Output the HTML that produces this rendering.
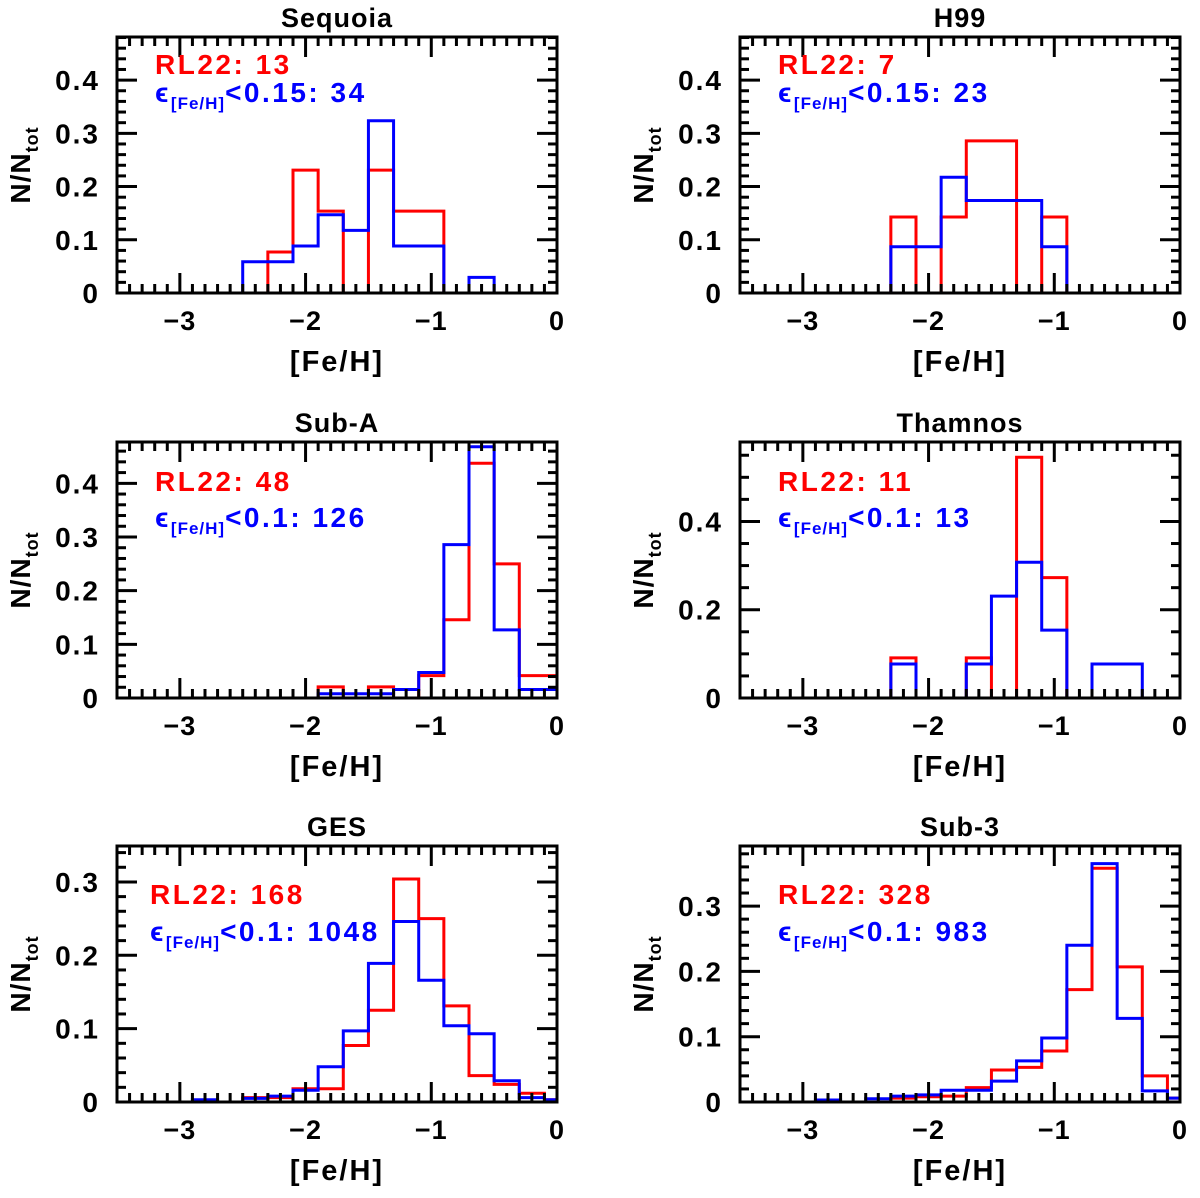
<!DOCTYPE html>
<html><head><meta charset="utf-8"><style>
body{margin:0;background:#fff}
svg text{font-family:"Liberation Sans",sans-serif;font-weight:bold}
</style></head><body>
<svg id="fig" width="1200" height="1193" viewBox="0 0 1200 1193" xmlns="http://www.w3.org/2000/svg"></svg>
<script>
// bin left edges: -2.9,-2.7,...,-0.1 (width 0.2)
const binStart = -2.9;
const binWidth = 0.2;
const titles = ["Sequoia","H99","Sub-A","Thamnos","GES","Sub-3"];
const redLabels = ["RL22: 13","RL22: 7","RL22: 48","RL22: 11","RL22: 168","RL22: 328"];
const blueCuts = ["<0.15: 34","<0.15: 23","<0.1: 126","<0.1: 13","<0.1: 1048","<0.1: 983"];
const seqRed = [0,0,0,1/13,3/13,2/13,0,3/13,2/13,2/13,0,0,0,0,0];
const seqBlue = [0,0,2/34,2/34,3/34,5/34,4/34,11/34,3/34,3/34,0,1/34,0,0,0];
const h99Red = [0,0,0,1/7,0,1/7,2/7,2/7,0,1/7,0,0,0,0,0];
const h99Blue = [0,0,0,2/23,2/23,5/23,4/23,4/23,4/23,2/23,0,0,0,0,0];
const subARed = [0,0,0,0,0,1/48,0,1/48,0,2/48,7/48,21/48,12/48,2/48,2/48];
const subABlue = [0,0,0,0,0,1/126,1/126,1/126,2/126,6/126,36/126,59/126,16/126,2/126,2/126];
const thamRed = [0,0,0,1/11,0,0,1/11,0,6/11,3/11,0,0,0,0,0];
const thamBlue = [0,0,0,1/13,0,0,1/13,3/13,4/13,2/13,0,1/13,1/13,0,0];
const gesRed = [0,0,0.006,0.006,0.018,0.018,0.077,0.125,0.304,0.25,0.131,0.036,0.024,0.012,0.003];
const gesBlue = [0.003,0,0.005,0.008,0.016,0.048,0.097,0.189,0.246,0.166,0.104,0.093,0.029,0.006,0.003];
const sub3Red = [0,0,0,0.006,0.008,0.009,0.022,0.049,0.053,0.078,0.172,0.358,0.207,0.04,0.006];
const sub3Blue = [0.003,0,0.005,0.009,0.011,0.018,0.018,0.032,0.063,0.098,0.24,0.365,0.128,0.017,0.006];
const redSeries = [seqRed,h99Red,subARed,thamRed,gesRed,sub3Red];
const blueSeries = [seqBlue,h99Blue,subABlue,thamBlue,gesBlue,sub3Blue];
const xTickLabels = ["−3","−2","−1","0"];
const xTickValues = [-3,-2,-1,0];
const yTickLabels = [["0","0.1","0.2","0.3","0.4"],["0","0.1","0.2","0.3","0.4"],["0","0.1","0.2","0.3","0.4"],["0","0.2","0.4"],["0","0.1","0.2","0.3"],["0","0.1","0.2","0.3"]];
const yTickValues = [[0,0.1,0.2,0.3,0.4],[0,0.1,0.2,0.3,0.4],[0,0.1,0.2,0.3,0.4],[0,0.2,0.4],[0,0.1,0.2,0.3],[0,0.1,0.2,0.3]];
const yMax = [0.481,0.481,0.477,0.58,0.349,0.392];
const yMinorStep = [0.02,0.02,0.02,0.05,0.02,0.02];

const NS="http://www.w3.org/2000/svg";
const svg=document.getElementById('fig');
function mk(tag,attrs,parent){const e=document.createElementNS(NS,tag);for(const k in attrs)e.setAttribute(k,attrs[k]);(parent||svg).appendChild(e);return e;}

const lefts=[117,740];
const tops=[37,442,846];
const W=440,H=256;

for(let p=0;p<6;p++){
  const L=lefts[p%2], T=tops[Math.floor(p/2)], B=T+H, R=L+W;
  const g=mk('g',{});
  
  
  const xs=v=>L+(v+3.5)/3.5*W;
  const ys=v=>B-v/yMax[p]*H;
  const clip=mk('clipPath',{id:'c'+p},g);
  mk('rect',{x:L,y:T,width:W,height:H},clip);
  [[redSeries[p],'#ff0000','red'],[blueSeries[p],'#0000ff','blue']].forEach(([arr,col,nm])=>{
    let d='M'+xs(binStart)+','+ys(0);
    arr.forEach((v,i)=>{const x0=xs(binStart+i*binWidth),x1=xs(binStart+(i+1)*binWidth);d+=' L'+x0+','+ys(v)+' L'+x1+','+ys(v);});
    d+=' L'+xs(binStart+arr.length*binWidth)+','+ys(0);
    const path=mk('path',{d:d,fill:'none',stroke:col,'stroke-width':3,'clip-path':'url(#c'+p+')'},g);
    
    
  });
  const fr=mk('rect',{x:L,y:T,width:W,height:H,fill:'none',stroke:'#000','stroke-width':3},g);
  
  
  for(let k=-35;k<=0;k++){
    const v=k/10, x=xs(v), major=(k%10===0), len=major?20:9;
    mk('line',{x1:x,y1:B,x2:x,y2:B-len,stroke:'#000','stroke-width':3},g);
    mk('line',{x1:x,y1:T,x2:x,y2:T+len,stroke:'#000','stroke-width':3},g);
  }
  xTickValues.forEach((v,i)=>{
    const t=mk('text',{x:xs(v),y:B+37,'font-size':27,'text-anchor':'middle','letter-spacing':1},g);t.textContent=xTickLabels[i];
    
    
  });
  const nMinor=Math.floor(yMax[p]/yMinorStep[p]+1e-6);
  for(let k=0;k<=nMinor;k++){
    const v=k*yMinorStep[p], y=ys(v);
    const major=yTickValues[p].some(t=>Math.abs(t-v)<1e-6);
    const len=major?20:9;
    mk('line',{x1:L,y1:y,x2:L+len,y2:y,stroke:'#000','stroke-width':3},g);
    mk('line',{x1:R,y1:y,x2:R-len,y2:y,stroke:'#000','stroke-width':3},g);
  }
  yTickValues[p].forEach((v,i)=>{
    const t=mk('text',{x:L-17,y:ys(v)+10,'font-size':28,'text-anchor':'end','letter-spacing':2},g);t.textContent=yTickLabels[p][i];
    
    
  });
  const tt=mk('text',{x:L+W/2,y:T-10,'font-size':27,'text-anchor':'middle','letter-spacing':1},g);tt.textContent=titles[p];
  
  
  const xl=mk('text',{x:L+W/2,y:B+78,'font-size':29,'text-anchor':'middle','letter-spacing':2},g);xl.textContent='[Fe/H]';
  
  
  const yl=mk('text',{transform:'translate('+(L-87)+','+(T+H/2)+') rotate(-90)','font-size':28,'text-anchor':'middle','letter-spacing':1},g);
  yl.innerHTML='N/N<tspan font-size="18" dy="8">tot</tspan>';
  
  
  const row=Math.floor(p/2);
  const lx=L+(row===2&&p%2===0?33:38);
  const ry=[74,491,904][row], by=[102,527,941][row];
  const rt=mk('text',{x:lx,y:ry,'font-size':28,fill:'#ff0000','letter-spacing':2.5},g);rt.textContent=redLabels[p];
  
  
  const bt=mk('text',{x:lx,y:by,'font-size':28,fill:'#0000ff','letter-spacing':2.5},g);
  bt.innerHTML='ϵ<tspan font-size="17" dy="7" letter-spacing="1">[Fe/H]</tspan><tspan dy="-7">'+blueCuts[p].replace('<','&lt;')+'</tspan>';
  
  
}
</script>
</body></html>
